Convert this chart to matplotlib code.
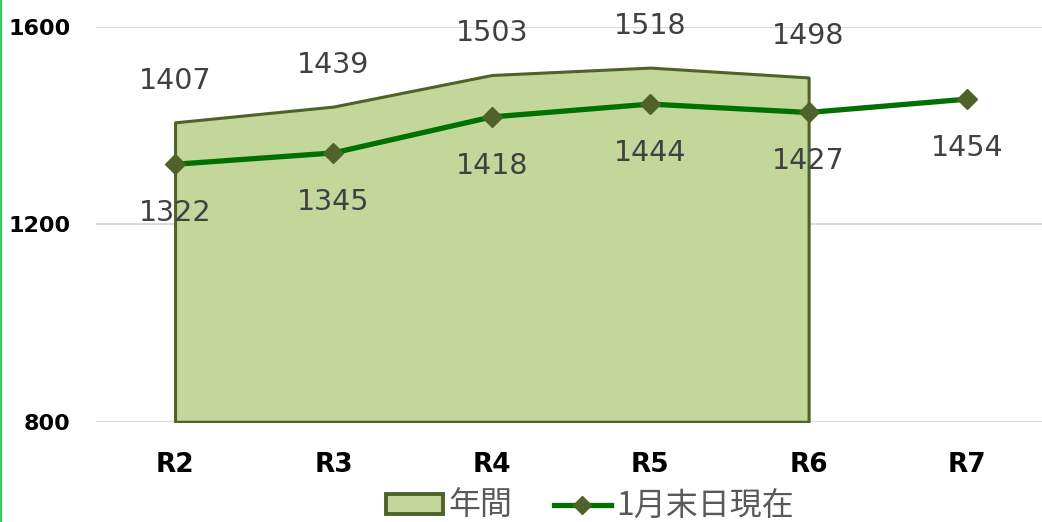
import matplotlib
matplotlib.use("Agg")
import matplotlib.pyplot as plt
from matplotlib.patches import Patch
from matplotlib.lines import Line2D

categories = ["R2", "R3", "R4", "R5", "R6", "R7"]
annual = [1407, 1439, 1503, 1518, 1498]          # 年間 (R2–R6)
end_of_jan = [1322, 1345, 1418, 1444, 1427, 1454]  # 1月末日現在
y_ticks = [800, 1200, 1600]

FILL = "#C4D79B"
EDGE = "#4F6228"
LINE = "#007000"
LABEL = "#404040"

plt.rcParams["font.family"] = ["Noto Sans CJK JP", "DejaVu Sans"]

fig = plt.figure(figsize=(10.42, 5.22), dpi=100)
ax = fig.add_axes([0.092, 0.192, 0.912, 0.756])

x_area = list(range(len(annual)))
x_line = list(range(len(end_of_jan)))

ax.fill_between(x_area, 800, annual, facecolor=FILL, edgecolor=EDGE,
                linewidth=2.2, zorder=2)
ax.plot(x_line, end_of_jan, color=LINE, linewidth=3.8, marker="D",
        markersize=10, markerfacecolor=EDGE, markeredgecolor=EDGE, zorder=3)

for xi, v in zip(x_area, annual):
    ax.annotate(str(v), (xi, v), xytext=(0, 30), textcoords="offset points",
                ha="center", va="center", fontsize=20.5, color=LABEL,
                family=["DejaVu Sans"], zorder=4)
for xi, v in zip(x_line, end_of_jan):
    ax.annotate(str(v), (xi, v), xytext=(0, -35), textcoords="offset points",
                ha="center", va="center", fontsize=20.5, color=LABEL,
                family=["DejaVu Sans"], zorder=4)

ax.set_xlim(-0.5, len(categories) - 0.5)
ax.set_ylim(800, 1600)
ax.set_yticks(y_ticks)
ax.set_yticklabels([str(t) for t in y_ticks], fontsize=16, fontweight="bold",
                   family=["DejaVu Sans"])
ax.set_xticks(x_line)
ax.set_xticklabels(categories, fontsize=19, fontweight="bold",
                   family=["DejaVu Sans"])
ax.tick_params(length=0)
ax.tick_params(axis="y", pad=18)
ax.tick_params(axis="x", pad=22)
ax.yaxis.grid(True, color="#D9D9D9", linewidth=1.5, zorder=0)
ax.set_axisbelow(True)
for s in ax.spines.values():
    s.set_visible(False)

handles = [
    Patch(facecolor=FILL, edgecolor=EDGE, linewidth=2.8, label="年間"),
    Line2D([0], [0], color=LINE, linewidth=3.8, marker="D", markersize=9,
           markerfacecolor=EDGE, markeredgecolor=EDGE, label="1月末日現在"),
]
leg = fig.legend(handles=handles, loc="center", bbox_to_anchor=(0.566, 0.03),
                 ncol=2, frameon=False, fontsize=23, handlelength=1.8,
                 handleheight=0.6, handletextpad=0.15, columnspacing=1.3)
for t in leg.get_texts():
    t.set_color("#595959")

# thin green rule along the left edge of the figure
fig.add_artist(Line2D([0.001, 0.001], [0, 1], transform=fig.transFigure,
                      color="#33CC55", linewidth=1.5))

fig.savefig("out.png", dpi=100)
